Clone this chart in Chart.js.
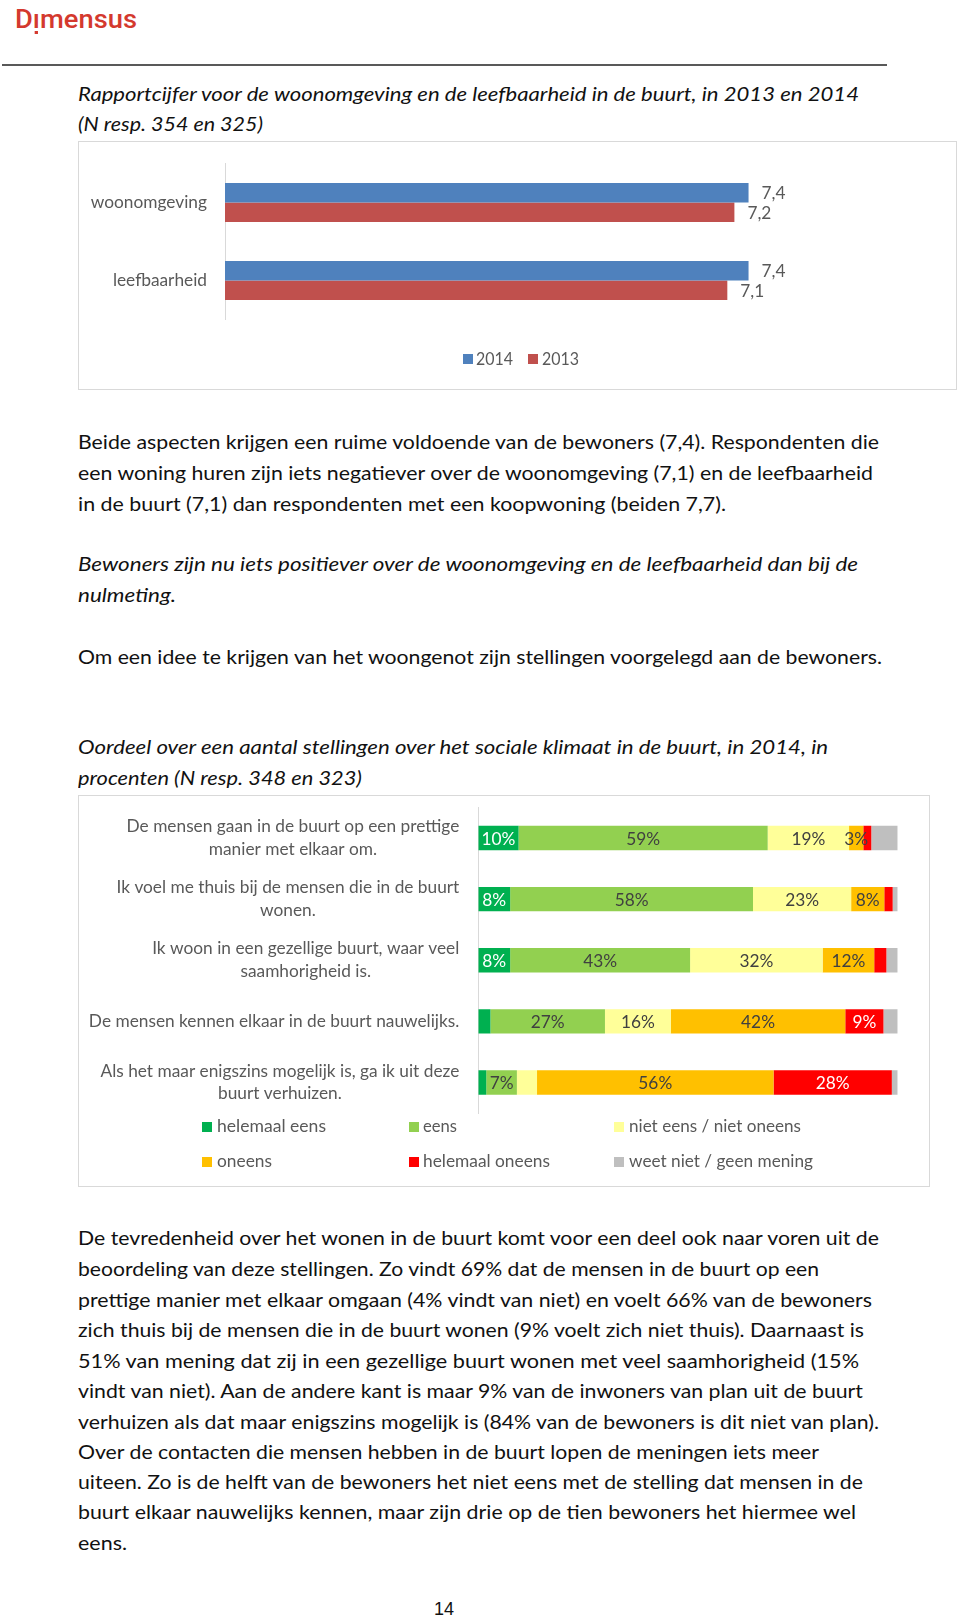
<!DOCTYPE html>
<html><head><meta charset="utf-8">
<script src="https://cdn.jsdelivr.net/npm/chart.js@4.4.1/dist/chart.umd.min.js"></script>
<style>
html,body{margin:0;padding:0;background:#fff;}
body{width:960px;height:1619px;position:relative;overflow:hidden;font-family:Lato,'Open Sans',sans-serif;}
.t{position:absolute;left:78px;white-space:nowrap;transform-origin:0 50%;line-height:30px;height:30px;font-size:19px;color:#111;}
.i{font-style:italic;}
.box{position:absolute;box-sizing:border-box;border:1px solid #D9D9D9;background:#fff;}
canvas{position:absolute;}
.lg{position:absolute;white-space:nowrap;transform-origin:0 50%;font-size:17.3px;line-height:20px;height:20px;color:#595959;}
.sq{position:absolute;width:10px;height:10px;}
#logo{position:absolute;left:15px;top:7px;font-family:Roboto,sans-serif;font-weight:500;font-size:25px;line-height:25px;color:#D4392E;white-space:nowrap;transform-origin:0 50%;}
#logo .dl{position:relative;}
#logo .dl::after{content:"";position:absolute;left:50%;margin-left:-1.6px;top:26px;width:3.2px;height:3.2px;background:#D4392E;}
#rule{position:absolute;left:2px;top:64px;width:885px;height:2px;background:#595959;}
#pn{position:absolute;left:434px;top:1598px;font-family:'Liberation Sans',Arial,sans-serif;font-size:18px;line-height:22px;color:#111;}
</style></head>
<body>
<div id="logo" data-w="122">D<span class="dl">ı</span>mensus</div>
<div id="rule"></div>

<div class="t i" style="top:79px" data-w="781">Rapportcijfer voor de woonomgeving en de leefbaarheid in de buurt, in 2013 en 2014</div>
<div class="t i" style="top:109px" data-w="185">(N resp. 354 en 325)</div>

<div class="box" style="left:78px;top:141px;width:879px;height:249px;"></div>
<canvas id="c1" width="879" height="249" style="left:78px;top:141px;"></canvas>
<div class="sq" style="left:463px;top:354px;background:#4F81BD"></div>
<div class="lg" style="left:476px;top:349px" data-w="37">2014</div>
<div class="sq" style="left:528px;top:354px;background:#C0504D"></div>
<div class="lg" style="left:542px;top:349px" data-w="37">2013</div>

<div class="t" style="top:427px" data-w="801">Beide aspecten krijgen een ruime voldoende van de bewoners (7,4). Respondenten die</div>
<div class="t" style="top:458px" data-w="795">een woning huren zijn iets negatiever over de woonomgeving (7,1) en de leefbaarheid</div>
<div class="t" style="top:489px" data-w="648">in de buurt (7,1) dan respondenten met een koopwoning (beiden 7,7).</div>

<div class="t i" style="top:549px" data-w="780">Bewoners zijn nu iets positiever over de woonomgeving en de leefbaarheid dan bij de</div>
<div class="t i" style="top:580px" data-w="98">nulmeting.</div>

<div class="t" style="top:642px" data-w="804">Om een idee te krijgen van het woongenot zijn stellingen voorgelegd aan de bewoners.</div>

<div class="t i" style="top:732px" data-w="750">Oordeel over een aantal stellingen over het sociale klimaat in de buurt, in 2014, in</div>
<div class="t i" style="top:763px" data-w="284">procenten (N resp. 348 en 323)</div>

<div class="box" style="left:78px;top:795px;width:852px;height:392px;"></div>
<canvas id="c2" width="852" height="392" style="left:78px;top:795px;"></canvas>
<div class="sq" style="left:202px;top:1122px;background:#00B050"></div>
<div class="lg" style="left:217px;top:1116px" data-w="109">helemaal eens</div>
<div class="sq" style="left:409px;top:1122px;background:#92D050"></div>
<div class="lg" style="left:423px;top:1116px" data-w="34">eens</div>
<div class="sq" style="left:614px;top:1122px;background:#FFFF99"></div>
<div class="lg" style="left:629px;top:1116px" data-w="172">niet eens / niet oneens</div>
<div class="sq" style="left:202px;top:1157px;background:#FFC000"></div>
<div class="lg" style="left:217px;top:1151px" data-w="55">oneens</div>
<div class="sq" style="left:409px;top:1157px;background:#FF0000"></div>
<div class="lg" style="left:423px;top:1151px" data-w="127">helemaal oneens</div>
<div class="sq" style="left:614px;top:1157px;background:#BFBFBF"></div>
<div class="lg" style="left:629px;top:1151px" data-w="184">weet niet / geen mening</div>

<div class="t" style="top:1223px" data-w="801">De tevredenheid over het wonen in de buurt komt voor een deel ook naar voren uit de</div>
<div class="t" style="top:1254px" data-w="741">beoordeling van deze stellingen. Zo vindt 69% dat de mensen in de buurt op een</div>
<div class="t" style="top:1285px" data-w="794">prettige manier met elkaar omgaan (4% vindt van niet) en voelt 66% van de bewoners</div>
<div class="t" style="top:1315px" data-w="786">zich thuis bij de mensen die in de buurt wonen (9% voelt zich niet thuis). Daarnaast is</div>
<div class="t" style="top:1346px" data-w="781">51% van mening dat zij in een gezellige buurt wonen met veel saamhorigheid (15%</div>
<div class="t" style="top:1376px" data-w="785">vindt van niet). Aan de andere kant is maar 9% van de inwoners van plan uit de buurt</div>
<div class="t" style="top:1407px" data-w="801">verhuizen als dat maar enigszins mogelijk is (84% van de bewoners is dit niet van plan).</div>
<div class="t" style="top:1437px" data-w="741">Over de contacten die mensen hebben in de buurt lopen de meningen iets meer</div>
<div class="t" style="top:1467px" data-w="785">uiteen. Zo is de helft van de bewoners het niet eens met de stelling dat mensen in de</div>
<div class="t" style="top:1497px" data-w="778">buurt elkaar nauwelijks kennen, maar zijn drie op de tien bewoners het hiermee wel</div>
<div class="t" style="top:1528px" data-w="49">eens.</div>

<div id="pn">14</div>

<script>
// ---- Chart 1 data ----
const categories1 = ['woonomgeving', 'leefbaarheid'];
const series1Labels = ['2014', '2013'];
const values2014 = [7.4, 7.4];
const values2013 = [7.2, 7.1];

// ---- Chart 2 data ----
const categories2 = [
  ['De mensen gaan in de buurt op een prettige', 'manier met elkaar om.'],
  ['Ik voel me thuis bij de mensen die in de buurt', 'wonen.'],
  ['Ik woon in een gezellige buurt, waar veel', 'saamhorigheid is.'],
  ['De mensen kennen elkaar in de buurt nauwelijks.'],
  ['Als het maar enigszins mogelijk is, ga ik uit deze', 'buurt verhuizen.']
];
const series2Labels = ['helemaal eens', 'eens', 'niet eens / niet oneens', 'oneens', 'helemaal oneens', 'weet niet / geen mening'];
const helemaalEens   = [9.6, 7.6, 7.6, 2.9, 1.9];
const eens           = [59.4, 57.9, 42.9, 27.3, 7.3];
const neutraal       = [19.4, 23.4, 31.6, 15.7, 4.8];
const oneens         = [3.4, 7.9, 12.3, 41.6, 56.4];
const helemaalOneens = [1.9, 2.0, 2.9, 9.1, 28.2];
const weetNiet       = [6.3, 1.2, 2.7, 3.4, 1.4];
// labels not printed in the source (dataset index, row index)
const hiddenLabels = [[2, 4]];

// fit text lines to measured widths
document.querySelectorAll('[data-w]').forEach(el => {
  const w = el.getBoundingClientRect().width;
  const s = parseFloat(el.dataset.w) / w;
  el.style.transform = 'scaleX(' + s.toFixed(4) + ')';
});

const FONT = 'Lato, "Open Sans", sans-serif';

const valueLabels1 = {
  id: 'vl1',
  afterDatasetsDraw(chart) {
    const ctx = chart.ctx;
    ctx.save();
    ctx.font = '17.3px ' + FONT;
    ctx.fillStyle = '#595959';
    ctx.textBaseline = 'middle';
    ctx.textAlign = 'left';
    chart.data.datasets.forEach((ds, i) => {
      chart.getDatasetMeta(i).data.forEach((bar, j) => {
        const p = bar.getProps(['x', 'y'], true);
        ctx.fillText(ds.data[j].toFixed(1).replace('.', ','), p.x + 13, p.y + 1);
      });
    });
    ctx.restore();
  }
};

new Chart(document.getElementById('c1'), {
  type: 'bar',
  data: {
    labels: categories1,
    datasets: [
      { label: series1Labels[0], data: values2014, backgroundColor: '#4F81BD' },
      { label: series1Labels[1], data: values2013, backgroundColor: '#C0504D' }
    ]
  },
  options: {
    indexAxis: 'y',
    responsive: false,
    animation: false,
    devicePixelRatio: 1,
    layout: { padding: { left: 0, right: 166, top: 22.5, bottom: 70.5 } },
    datasets: { bar: { categoryPercentage: 0.5, barPercentage: 1 } },
    plugins: { legend: { display: false }, tooltip: { enabled: false } },
    scales: {
      x: { display: false, min: 0, max: 8 },
      y: {
        grid: { display: false, drawTicks: false },
        border: { display: true, color: '#D9D9D9' },
        ticks: { color: '#595959', font: { family: FONT, size: 17.3 }, padding: 18 },
        afterFit(s) { s.width = 147; s.paddingTop = 0; s.paddingBottom = 0; }
      }
    }
  },
  plugins: [valueLabels1]
});

const labelColors2 = ['#FFFFFF', '#404040', '#404040', '#404040', '#FFFFFF', '#404040'];
const labels2 = {
  id: 'lb2',
  afterDatasetsDraw(chart) {
    const ctx = chart.ctx;
    ctx.save();
    ctx.font = '17.3px ' + FONT;
    ctx.textBaseline = 'middle';
    ctx.textAlign = 'center';
    chart.data.datasets.forEach((ds, i) => {
      if (i === 5) return;
      chart.getDatasetMeta(i).data.forEach((bar, j) => {
        const v = ds.data[j];
        if (v < 3) return;
        if (hiddenLabels.some(h => h[0] === i && h[1] === j)) return;
        const p = bar.getProps(['x', 'y', 'base'], true);
        ctx.fillStyle = labelColors2[i];
        ctx.fillText(Math.round(v) + '%', (p.x + p.base) / 2, p.y + 1);
      });
    });
    // category labels (multi-line, lines centred within block, block right-aligned)
    const ys = chart.scales.y;
    ctx.fillStyle = '#595959';
    const right = chart.chartArea.left - 19;
    chart.data.labels.forEach((lines, i) => {
      const arr = Array.isArray(lines) ? lines : [lines];
      const w = Math.max(...arr.map(l => ctx.measureText(l).width));
      const cx = right - w / 2;
      const cy = ys.getPixelForValue(i);
      const lh = 22.7;
      arr.forEach((l, k) => ctx.fillText(l, cx, cy + (k - (arr.length - 1) / 2) * lh));
    });
    ctx.restore();
  }
};

new Chart(document.getElementById('c2'), {
  type: 'bar',
  data: {
    labels: categories2,
    datasets: [
      { label: series2Labels[0], data: helemaalEens, backgroundColor: '#00B050' },
      { label: series2Labels[1], data: eens, backgroundColor: '#92D050' },
      { label: series2Labels[2], data: neutraal, backgroundColor: '#FFFF99' },
      { label: series2Labels[3], data: oneens, backgroundColor: '#FFC000' },
      { label: series2Labels[4], data: helemaalOneens, backgroundColor: '#FF0000' },
      { label: series2Labels[5], data: weetNiet, backgroundColor: '#BFBFBF' }
    ]
  },
  options: {
    indexAxis: 'y',
    responsive: false,
    animation: false,
    devicePixelRatio: 1,
    layout: { padding: { left: 0, right: 32.3, top: 12.5, bottom: 74 } },
    datasets: { bar: { categoryPercentage: 1, barPercentage: 0.4 } },
    plugins: { legend: { display: false }, tooltip: { enabled: false } },
    scales: {
      x: { display: false, stacked: true, min: 0, max: 100 },
      y: {
        stacked: true,
        grid: { display: false, drawTicks: false },
        border: { display: true, color: '#D9D9D9' },
        ticks: { display: false },
        afterFit(s) { s.width = 400.3; s.paddingTop = 0; s.paddingBottom = 0; }
      }
    }
  },
  plugins: [labels2]
});
</script>
</body></html>
